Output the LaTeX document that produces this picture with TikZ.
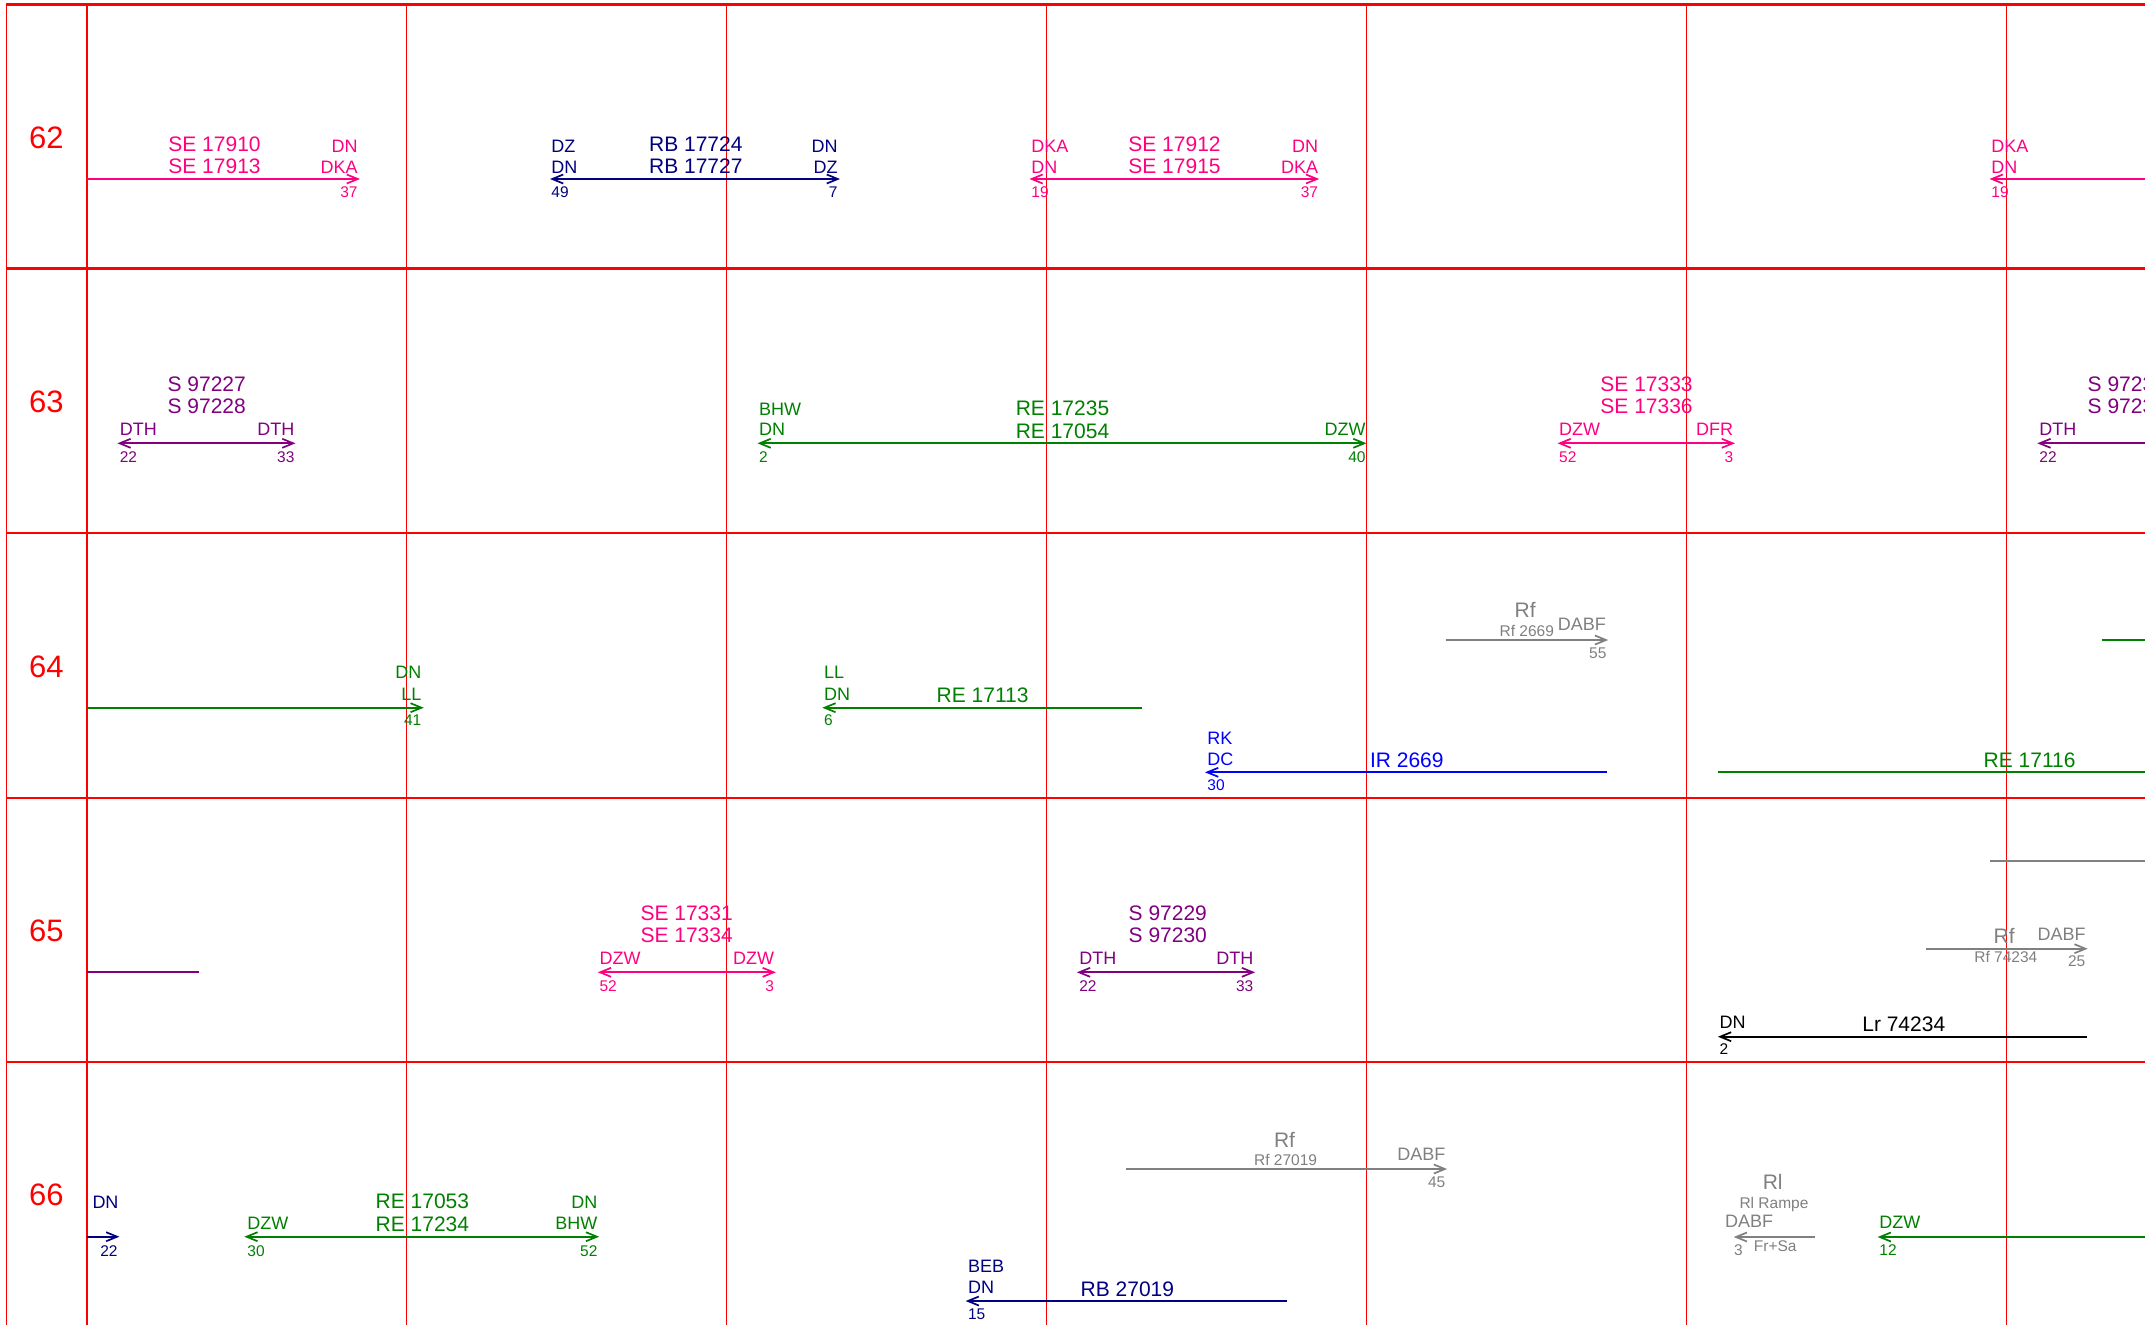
\documentclass[tikz,border=0pt]{standalone}
\usepackage{fontspec}
\setmainfont{Liberation Sans}
\usetikzlibrary{arrows.meta}
\definecolor{sepink}{RGB}{255,0,128}
\definecolor{rbnavy}{RGB}{0,0,128}
\definecolor{spurple}{RGB}{128,0,128}
\definecolor{regreen}{RGB}{0,128,0}
\definecolor{irblue}{RGB}{0,0,255}
\definecolor{rfgray}{RGB}{128,128,128}
\definecolor{gridred}{RGB}{255,0,0}
\tikzset{
  tn/.style={inner sep=0pt, font=\fontsize{10.5}{12}\selectfont},
  st/.style={inner sep=0pt, font=\fontsize{9}{10}\selectfont},
  mn/.style={inner sep=0pt, font=\fontsize{7.75}{9}\selectfont},
  rowlab/.style={inner sep=0pt, anchor=base west, text=gridred, font=\fontsize{15.5}{18}\selectfont},
  L/.style={anchor=base west},
  R/.style={anchor=base east},
  run/.style={line width=0.85pt},
  hline/.style={draw=gridred, line width=1.2pt},
  vline/.style={draw=gridred, line width=0.8pt},
}
\begin{document}
\begin{tikzpicture}[x=0.5pt, y=-0.5pt, >={Straight Barb[length=5.5pt,width=4.5pt]}]
\useasboundingbox (0,0) rectangle (2145,1324);
\clip (0,0) rectangle (2145,1324);
\fill[white] (0,0) rectangle (2145,1324);

% grid
\foreach \y in {4.5,268.5,533,797.8,1062} \draw[hline] (5.5,\y) -- (2160,\y);
\foreach \x in {6.3,86.7,406.6,726.6,1046.6,1366.3,1686.3,2006.3} \draw[vline] (\x,4) -- (\x,1330);

% row labels
\node[rowlab] (r62) at (28.7,148.3) {62};
\node[rowlab] (r63) at (28.7,412.7) {63};
\node[rowlab] (r64) at (28.7,677.0) {64};
\node[rowlab] (r65) at (28.7,941.3) {65};
\node[rowlab] (r66) at (28.7,1205.8) {66};

% ===== row 62 =====
\coordinate (a1s) at (86.7,179); \coordinate (a1e) at (360,179);
\draw[run,sepink,->] (a1s) -- (a1e);
\node[tn,L,sepink] (a1t1) at (168,151.7) {SE 17910};
\node[tn,L,sepink] (a1t2) at (168,173.3) {SE 17913};
\node[st,R,sepink] (a1r1) at (358,152) {DN};
\node[st,R,sepink] (a1r2) at (358,173.3) {DKA};
\node[mn,R,sepink] (a1m) at (358,197) {37};

\coordinate (a2s) at (550,179); \coordinate (a2e) at (840,179);
\draw[run,rbnavy,<->] (a2s) -- (a2e);
\node[st,L,rbnavy] (a2l1) at (551,152) {DZ};
\node[st,L,rbnavy] (a2l2) at (551,173.3) {DN};
\node[mn,L,rbnavy] (a2lm) at (551,197) {49};
\node[tn,L,rbnavy] (a2t1) at (648.7,151.7) {RB 17724};
\node[tn,L,rbnavy] (a2t2) at (648.7,173.3) {RB 17727};
\node[st,R,rbnavy] (a2r1) at (838,152) {DN};
\node[st,R,rbnavy] (a2r2) at (838,173.3) {DZ};
\node[mn,R,rbnavy] (a2rm) at (838,197) {7};

\coordinate (a3s) at (1029.4,179); \coordinate (a3e) at (1319.2,179);
\draw[run,sepink,<->] (a3s) -- (a3e);
\node[st,L,sepink] (a3l1) at (1031,152) {DKA};
\node[st,L,sepink] (a3l2) at (1031,173.3) {DN};
\node[mn,L,sepink] (a3lm) at (1031,197) {19};
\node[tn,L,sepink] (a3t1) at (1128,151.7) {SE 17912};
\node[tn,L,sepink] (a3t2) at (1128,173.3) {SE 17915};
\node[st,R,sepink] (a3r1) at (1318.5,152) {DN};
\node[st,R,sepink] (a3r2) at (1318.5,173.3) {DKA};
\node[mn,R,sepink] (a3rm) at (1318.5,197) {37};

\coordinate (a4s) at (1989.5,179); \coordinate (a4e) at (2160,179);
\draw[run,sepink,<-] (a4s) -- (a4e);
\node[st,L,sepink] (a4l1) at (1991,152) {DKA};
\node[st,L,sepink] (a4l2) at (1991,173.3) {DN};
\node[mn,L,sepink] (a4lm) at (1991,197) {19};

% ===== row 63 =====
\coordinate (b1s) at (117.4,443.3); \coordinate (b1e) at (295.5,443.3);
\draw[run,spurple,<->] (b1s) -- (b1e);
\node[tn,L,spurple] (b1t1) at (167.2,391.2) {S 97227};
\node[tn,L,spurple] (b1t2) at (167.2,413.3) {S 97228};
\node[st,L,spurple] (b1l) at (119.4,435.7) {DTH};
\node[st,R,spurple] (b1r) at (294.8,435.7) {DTH};
\node[mn,L,spurple] (b1lm) at (119.4,462.3) {22};
\node[mn,R,spurple] (b1rm) at (294.8,462.3) {33};

\coordinate (b2s) at (757.5,443.3); \coordinate (b2e) at (1366.5,443.3);
\draw[run,regreen,<->] (b2s) -- (b2e);
\node[st,L,regreen] (b2l1) at (758.8,415) {BHW};
\node[st,L,regreen] (b2l2) at (758.8,435.7) {DN};
\node[mn,L,regreen] (b2lm) at (758.8,462.3) {2};
\node[tn,L,regreen] (b2t1) at (1015.4,415.7) {RE 17235};
\node[tn,L,regreen] (b2t2) at (1015.4,438.3) {RE 17054};
\node[st,R,regreen] (b2r) at (1366,435.7) {DZW};
\node[mn,R,regreen] (b2rm) at (1366,462.3) {40};

\coordinate (b3s) at (1557.5,443.3); \coordinate (b3e) at (1735,443.3);
\draw[run,sepink,<->] (b3s) -- (b3e);
\node[tn,L,sepink] (b3t1) at (1600,391.2) {SE 17333};
\node[tn,L,sepink] (b3t2) at (1600,413.3) {SE 17336};
\node[st,L,sepink] (b3l) at (1558.8,435.7) {DZW};
\node[st,R,sepink] (b3r) at (1733.6,435.7) {DFR};
\node[mn,L,sepink] (b3lm) at (1558.8,462.3) {52};
\node[mn,R,sepink] (b3rm) at (1733.6,462.3) {3};

\coordinate (b4s) at (2037.3,443.3); \coordinate (b4e) at (2160,443.3);
\draw[run,spurple,<-] (b4s) -- (b4e);
\node[tn,L,spurple] (b4t1) at (2087.3,391.2) {S 97231};
\node[tn,L,spurple] (b4t2) at (2087.3,413.3) {S 97232};
\node[st,L,spurple] (b4l) at (2039,435.7) {DTH};
\node[mn,L,spurple] (b4lm) at (2039,462.3) {22};

% ===== row 64 =====
\coordinate (c1s) at (86.7,707.7); \coordinate (c1e) at (423.8,707.7);
\draw[run,regreen,->] (c1s) -- (c1e);
\node[st,R,regreen] (c1r1) at (421.7,678.3) {DN};
\node[st,R,regreen] (c1r2) at (421.7,700) {LL};
\node[mn,R,regreen] (c1rm) at (421.7,725.7) {41};

\coordinate (c2s) at (822.3,707.7); \coordinate (c2e) at (1142,707.7);
\draw[run,regreen,<-] (c2s) -- (c2e);
\node[st,L,regreen] (c2l1) at (823.7,678.3) {LL};
\node[st,L,regreen] (c2l2) at (823.7,700) {DN};
\node[mn,L,regreen] (c2lm) at (823.7,725.7) {6};
\node[tn,L,regreen] (c2t) at (936.3,702.7) {RE 17113};

\coordinate (c3s) at (1445.7,640); \coordinate (c3e) at (1608.2,640);
\draw[run,rfgray,->] (c3s) -- (c3e);
\node[tn,L,rfgray] (c3t) at (1514.3,617.3) {Rf};
\node[mn,L,rfgray] (c3n) at (1499.2,636) {Rf 2669};
\node[st,L,rfgray] (c3r) at (1557.5,630) {DABF};
\node[mn,R,rfgray] (c3rm) at (1606.8,658.3) {55};

\coordinate (c4s) at (1205,772.3); \coordinate (c4e) at (1606.8,772.3);
\draw[run,irblue,<-] (c4s) -- (c4e);
\node[st,L,irblue] (c4l1) at (1207,744) {RK};
\node[st,L,irblue] (c4l2) at (1207,765) {DC};
\node[mn,L,irblue] (c4lm) at (1207,790.7) {30};
\node[tn,L,irblue] (c4t) at (1369.6,767.7) {IR 2669};

\coordinate (c5s) at (1718,772.3); \coordinate (c5e) at (2160,772.3);
\draw[run,regreen] (c5s) -- (c5e);
\node[tn,L,regreen] (c5t) at (1983.3,767.7) {RE 17116};

\coordinate (c6s) at (2101.7,640); \coordinate (c6e) at (2160,640);
\draw[run,regreen] (c6s) -- (c6e);

% ===== row 65 =====
\coordinate (d1s) at (86.7,972.3); \coordinate (d1e) at (199.3,972.3);
\draw[run,spurple] (d1s) -- (d1e);

\coordinate (d2s) at (597.8,972.3); \coordinate (d2e) at (775.9,972.3);
\draw[run,sepink,<->] (d2s) -- (d2e);
\node[tn,L,sepink] (d2t1) at (640.1,920) {SE 17331};
\node[tn,L,sepink] (d2t2) at (640.1,942.3) {SE 17334};
\node[st,L,sepink] (d2l) at (599.2,964.3) {DZW};
\node[st,R,sepink] (d2r) at (774.5,964.3) {DZW};
\node[mn,L,sepink] (d2lm) at (599.2,991) {52};
\node[mn,R,sepink] (d2rm) at (774.5,991) {3};

\coordinate (d3s) at (1076.9,972.3); \coordinate (d3e) at (1255.1,972.3);
\draw[run,spurple,<->] (d3s) -- (d3e);
\node[tn,L,spurple] (d3t1) at (1128.3,920) {S 97229};
\node[tn,L,spurple] (d3t2) at (1128.3,942.3) {S 97230};
\node[st,L,spurple] (d3l) at (1078.9,964.3) {DTH};
\node[st,R,spurple] (d3r) at (1253.7,964.3) {DTH};
\node[mn,L,spurple] (d3lm) at (1078.9,991) {22};
\node[mn,R,spurple] (d3rm) at (1253.7,991) {33};

\coordinate (d4s) at (1990,860.7); \coordinate (d4e) at (2160,860.7);
\draw[run,rfgray] (d4s) -- (d4e);

\coordinate (d5s) at (1926,948.7); \coordinate (d5e) at (2087.7,948.7);
\draw[run,rfgray,->] (d5s) -- (d5e);
\node[tn,L,rfgray] (d5t) at (1993.3,943.3) {Rf};
\node[st,L,rfgray] (d5r) at (2037.3,940.7) {DABF};
\node[mn,L,rfgray] (d5n) at (1974,962.7) {Rf 74234};
\node[mn,R,rfgray] (d5rm) at (2085.7,966.7) {25};

\coordinate (d6s) at (1717.9,1036.7); \coordinate (d6e) at (2086.7,1036.7);
\draw[run,black,<-] (d6s) -- (d6e);
\node[st,L,black] (d6l) at (1719.3,1028.3) {DN};
\node[mn,L,black] (d6lm) at (1719.3,1054.3) {2};
\node[tn,L,black] (d6t) at (1861.9,1031.7) {Lr 74234};

% ===== row 66 =====
\coordinate (e1s) at (86.7,1236.7); \coordinate (e1e) at (119.4,1236.7);
\draw[run,rbnavy,->] (e1s) -- (e1e);
\node[st,L,rbnavy] (e1l) at (92.1,1208.3) {DN};
\node[mn,R,rbnavy] (e1rm) at (118,1256) {22};

\coordinate (e2s) at (244.3,1236.7); \coordinate (e2e) at (599.2,1236.7);
\draw[run,regreen,<->] (e2s) -- (e2e);
\node[st,L,regreen] (e2l) at (247,1229.3) {DZW};
\node[mn,L,regreen] (e2lm) at (247,1256) {30};
\node[tn,L,regreen] (e2t1) at (375.3,1208.3) {RE 17053};
\node[tn,L,regreen] (e2t2) at (375.3,1231.7) {RE 17234};
\node[st,R,regreen] (e2r1) at (597.8,1208.3) {DN};
\node[st,R,regreen] (e2r2) at (597.8,1229.3) {BHW};
\node[mn,R,regreen] (e2rm) at (597.8,1256) {52};

\coordinate (e3s) at (965.6,1301); \coordinate (e3e) at (1287.3,1301);
\draw[run,rbnavy,<-] (e3s) -- (e3e);
\node[st,L,rbnavy] (e3l1) at (967.7,1272.7) {BEB};
\node[st,L,rbnavy] (e3l2) at (967.7,1293.3) {DN};
\node[mn,L,rbnavy] (e3lm) at (967.7,1319.3) {15};
\node[tn,L,rbnavy] (e3t) at (1080.3,1296.7) {RB 27019};

\coordinate (e4s) at (1126.2,1169); \coordinate (e4e) at (1447.1,1169);
\draw[run,rfgray,->] (e4s) -- (e4e);
\node[tn,L,rfgray] (e4t) at (1273.6,1147.3) {Rf};
\node[mn,L,rfgray] (e4n) at (1253.7,1165.3) {Rf 27019};
\node[st,L,rfgray] (e4r) at (1397,1160) {DABF};
\node[mn,R,rfgray] (e4rm) at (1445.7,1187.7) {45};

\coordinate (e5s) at (1733.7,1237); \coordinate (e5e) at (1815.2,1237);
\draw[run,rfgray,<-] (e5s) -- (e5e);
\node[tn,L,rfgray] (e5t) at (1762.4,1189.3) {Rl};
\node[mn,L,rfgray] (e5n) at (1739.1,1208.3) {Rl Rampe};
\node[st,L,rfgray] (e5l) at (1724.7,1227.7) {DABF};
\node[mn,L,rfgray] (e5lm) at (1733.7,1255) {3};
\node[mn,L,rfgray] (e5f) at (1753.5,1251) {Fr+Sa};

\coordinate (e6s) at (1877.6,1237); \coordinate (e6e) at (2160,1237);
\draw[run,regreen,<-] (e6s) -- (e6e);
\node[st,L,regreen] (e6l) at (1879,1228.3) {DZW};
\node[mn,L,regreen] (e6lm) at (1879,1255) {12};
\end{tikzpicture}
\end{document}
